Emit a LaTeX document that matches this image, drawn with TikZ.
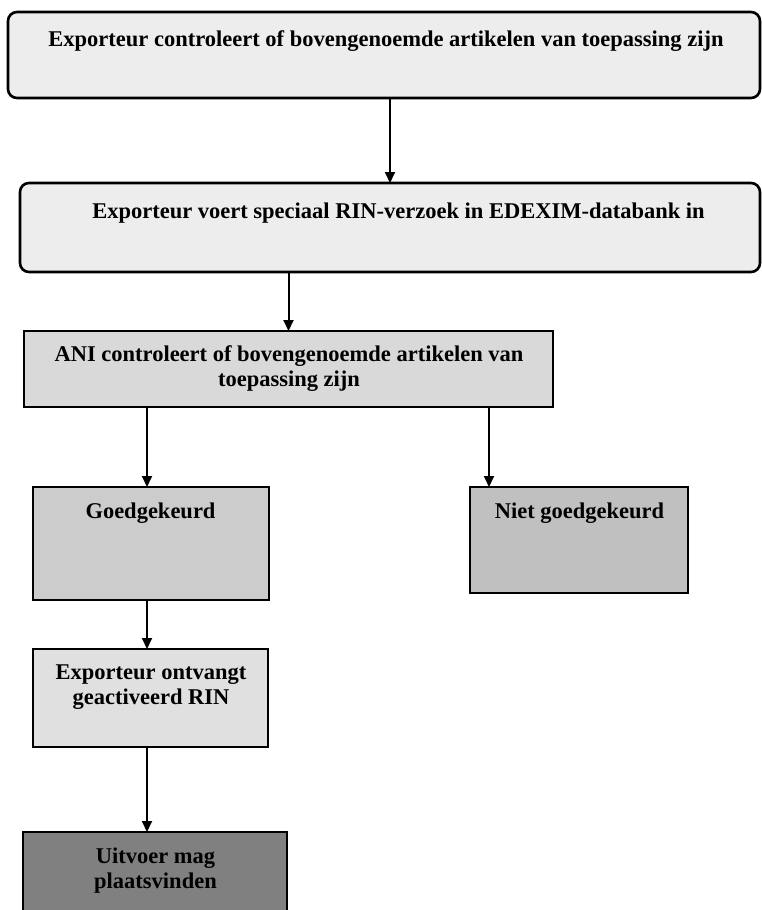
\documentclass[tikz,border=0pt]{standalone}
\usepackage{fontspec}
\setmainfont{Liberation Serif}
\usetikzlibrary{arrows.meta}
\definecolor{cA}{HTML}{EDEDED}
\definecolor{cB}{HTML}{D9D9D9}
\definecolor{cC}{HTML}{CCCCCC}
\definecolor{cD}{HTML}{C0C0C0}
\definecolor{cE}{HTML}{E0E0E0}
\definecolor{cF}{HTML}{808080}
\begin{document}
\begin{tikzpicture}[x=1pt,y=-1pt,
  flowbox/.style={draw=black, line width=2.6pt, inner sep=0pt, outer sep=0pt},
  lbl/.style={font=\bfseries\fontsize{22.5}{25}\selectfont, align=center, inner sep=0pt, text=black, anchor=north},
  arr/.style={line width=2pt, -{Triangle[length=11pt,width=10pt]}}]
\useasboundingbox (0,0) rectangle (762,910);
% boxes
\node[flowbox, rounded corners=9pt, fill=cA, minimum width=752pt, minimum height=86pt] (b1) at (384,55) {};
\node[flowbox, rounded corners=9pt, fill=cA, minimum width=740pt, minimum height=89pt] (b2) at (390,227.5) {};
\node[flowbox, fill=cB, minimum width=529pt, minimum height=76pt] (b3) at (288.5,369) {};
\node[flowbox, fill=cC, minimum width=236pt, minimum height=113pt] (b4) at (151,543.5) {};
\node[flowbox, fill=cD, minimum width=218pt, minimum height=106pt] (b5) at (579,540) {};
\node[flowbox, fill=cE, minimum width=235pt, minimum height=98pt] (b6) at (150.5,698) {};
\node[flowbox, fill=cF, minimum width=264pt, minimum height=90pt] (b7) at (155,877) {};
% labels
\node[lbl] (t1) at (386,30) {Exporteur controleert of bovengenoemde artikelen van toepassing zijn};
\node[lbl] (t2) at (398.5,203) {Exporteur voert speciaal RIN-verzoek in EDEXIM-databank in};
\node[lbl] (t3) at (289,345) {ANI controleert of bovengenoemde artikelen van\\toepassing zijn};
\node[lbl] (t4) at (150.5,503) {Goedgekeurd};
\node[lbl] (t5) at (579.5,503) {Niet goedgekeurd};
\node[lbl] (t6) at (151,665) {Exporteur ontvangt\\geactiveerd RIN};
\node[lbl] (t7) at (155.5,848) {Uitvoer mag\\plaatsvinden};
% connectors
\draw[arr] (b2.north |- b1.south) -- (b2.north);
\draw[arr] (b3.north |- b2.south) -- (b3.north);
\draw[arr] ([xshift=-4pt]b4.north |- b3.south) -- ([xshift=-4pt]b4.north);
\draw[arr] ([xshift=19pt]b5.north west |- b3.south) -- ([xshift=19pt]b5.north west);
\draw[arr] ([xshift=-4pt]b4.south) -- ([xshift=-4pt]b4.south |- b6.north);
\draw[arr] ([xshift=-3.5pt]b6.south) -- ([xshift=-3.5pt]b6.south |- b7.north);
\end{tikzpicture}
\end{document}
